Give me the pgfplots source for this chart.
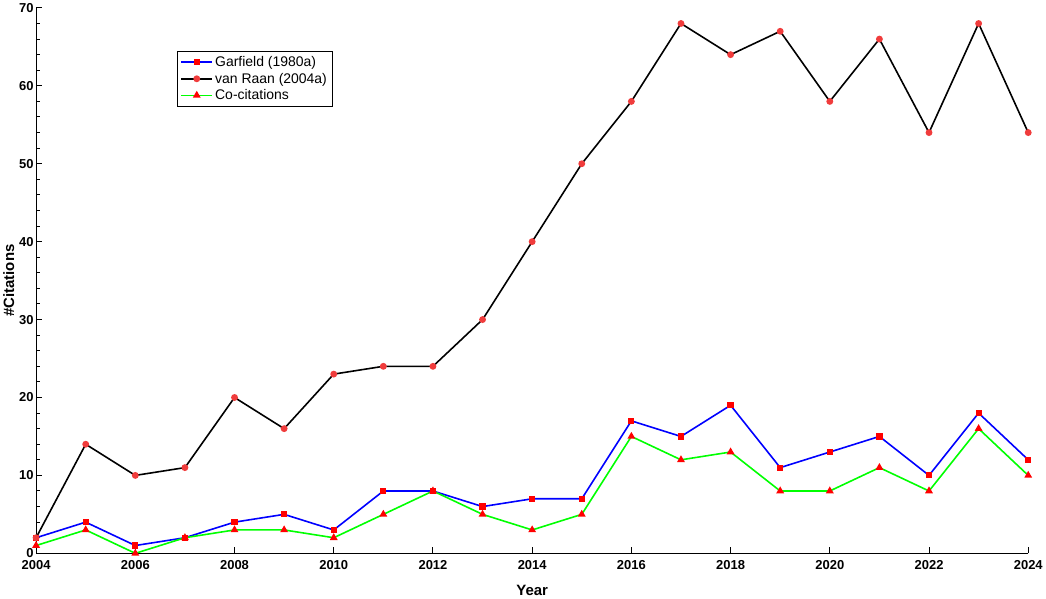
\documentclass[border=0pt]{standalone}
\usepackage{pgfplots}
\pgfplotsset{compat=1.18}
\usepackage{fontspec}
\setmainfont{Liberation Sans}
\definecolor{mkred}{RGB}{240,60,60}
\begin{document}
\begin{tikzpicture}
\begin{axis}[
    scale only axis,
    width=995pt, height=547pt,
    xmin=2004, xmax=2024, ymin=0, ymax=70,
    axis x line*=bottom, axis y line*=left,
    axis line style={line width=1.2pt},
    xtick={2004,2006,...,2024},
    minor x tick num=1,
    ytick={0,10,...,70},
    minor y tick num=4,
    tick align=inside,
    major tick length=6pt, minor tick length=4pt,
    tick style={line width=1pt, black},
    x tick label style={/pgf/number format/1000 sep={}, yshift=-4pt},
    y tick label style={xshift=1pt},
    /pgf/number format/assume math mode=true,
    tick label style={font=\fontsize{13}{15}\selectfont\bfseries},
    xlabel={\textbf{Year}}, ylabel={\textbf{\#Citations}},
    label style={font=\fontsize{15}{17}\selectfont},
    xlabel style={yshift=-8pt},
    ylabel style={yshift=-2pt},
    legend style={at={(0.142,0.921)}, anchor=north west, draw=black, line width=0.8pt,
      font=\fontsize{14}{16}\selectfont, inner sep=3pt, row sep=1pt,
      cells={anchor=west}},
    legend cell align=left,
    legend image code/.code={
      \draw[mark repeat=2,mark phase=2] plot coordinates {(0cm,0cm) (0.55cm,0cm) (1.1cm,0cm)};},
  ]
  \addplot[blue, line width=1.6pt, mark=square*, mark size=2.3pt,
    mark options={fill=red, draw=red}] coordinates {
    (2004,2) (2005,4) (2006,1) (2007,2) (2008,4) (2009,5) (2010,3) (2011,8)
    (2012,8) (2013,6) (2014,7) (2015,7) (2016,17) (2017,15) (2018,19)
    (2019,11) (2020,13) (2021,15) (2022,10) (2023,18) (2024,12) };
  \addplot[black, line width=1.6pt, mark=*, mark size=2.6pt,
    mark options={fill=mkred, draw=mkred}] coordinates {
    (2004,2) (2005,14) (2006,10) (2007,11) (2008,20) (2009,16) (2010,23)
    (2011,24) (2012,24) (2013,30) (2014,40) (2015,50) (2016,58) (2017,68)
    (2018,64) (2019,67) (2020,58) (2021,66) (2022,54) (2023,68) (2024,54) };
  \addplot[green, line width=1.6pt, mark=triangle*, mark size=3pt,
    mark options={fill=red, draw=red}] coordinates {
    (2004,1) (2005,3) (2006,0) (2007,2) (2008,3) (2009,3) (2010,2) (2011,5)
    (2012,8) (2013,5) (2014,3) (2015,5) (2016,15) (2017,12) (2018,13)
    (2019,8) (2020,8) (2021,11) (2022,8) (2023,16) (2024,10) };
  \legend{Garfield (1980a), van Raan (2004a), Co-citations}
\end{axis}
\end{tikzpicture}
\end{document}
